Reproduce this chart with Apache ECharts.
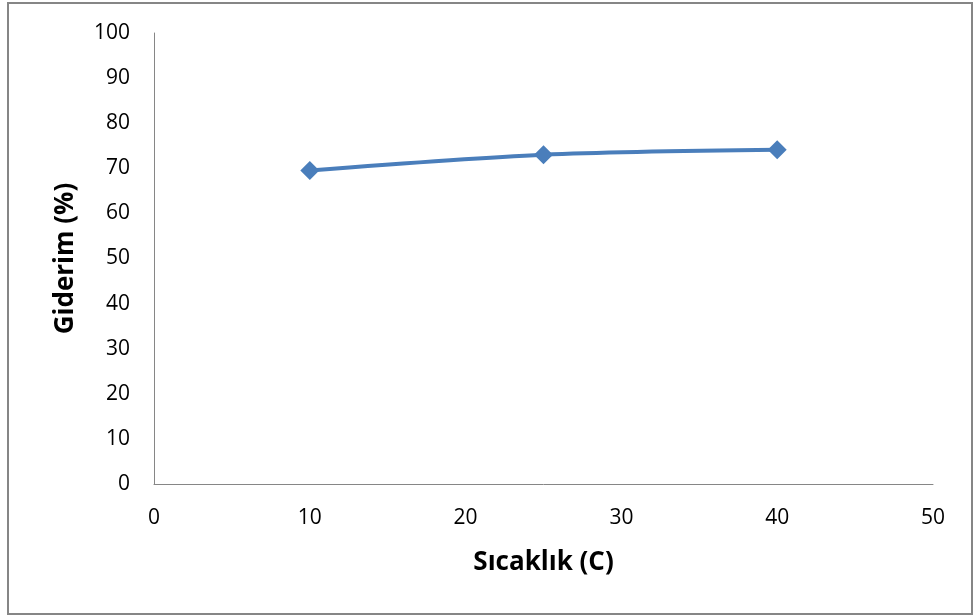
<!DOCTYPE html>
<html><head><meta charset="utf-8">
<script src="https://cdn.jsdelivr.net/npm/echarts@6/dist/echarts.min.js"></script>
<style>html,body{margin:0;padding:0;background:#fff}#c{width:974px;height:616px}</style>
</head><body><div id="c"></div>
<script>
const xValues = [10, 25, 40];
const yValues = [69.5, 73.0, 74.1];
const xTitle = 'Sıcaklık (C)';
const yTitle = 'Giderim (%)';

const chart = echarts.init(document.getElementById('c'), null, {renderer: 'canvas'});
const font = '"Open Sans", "Liberation Sans", sans-serif';
chart.setOption({
  animation: false,
  backgroundColor: '#fff',
  graphic: [{type: 'rect', shape: {x: 8, y: 3, width: 964, height: 611},
    style: {fill: 'none', stroke: '#868686', lineWidth: 2}}],
  grid: {left: 154, top: 33, right: 41, bottom: 132},
  xAxis: {type: 'value', min: 0, max: 50, interval: 10,
    name: xTitle, nameLocation: 'middle', nameGap: 66,
    nameTextStyle: {fontFamily: font, fontSize: 26, fontWeight: 'bold', color: '#000'},
    axisLine: {show: true, lineStyle: {color: '#868686', width: 1}},
    axisTick: {show: false}, splitLine: {show: false},
    axisLabel: {fontFamily: font, fontSize: 21, color: '#000', margin: 24}},
  yAxis: {type: 'value', min: 0, max: 100, interval: 10,
    name: yTitle, nameLocation: 'middle', nameGap: 75, nameRotate: 90,
    nameTextStyle: {fontFamily: font, fontSize: 26, fontWeight: 'bold', color: '#000'},
    axisLine: {show: true, lineStyle: {color: '#868686', width: 1}},
    axisTick: {show: false}, splitLine: {show: false},
    axisLabel: {fontFamily: font, fontSize: 21, color: '#000', margin: 24}},
  series: [{type: 'line', data: xValues.map((x, i) => [x, yValues[i]]),
    smooth: 0.3, symbol: 'diamond', symbolSize: 19,
    lineStyle: {color: '#4A7EBB', width: 4},
    itemStyle: {color: '#4A7EBB'}}]
});
</script></body></html>
